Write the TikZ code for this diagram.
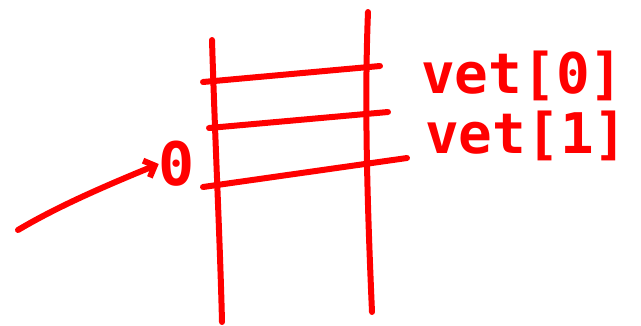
\documentclass[tikz,border=0pt]{standalone}
\usepackage{fontspec}
\newfontfamily\handfont{DejaVu Sans Mono}[BoldFont={DejaVu Sans Mono Bold}]
\usetikzlibrary{arrows.meta}
\definecolor{ink}{RGB}{255,0,0}
\begin{document}
\begin{tikzpicture}[x=1pt,y=-1pt,
  stroke/.style={draw=ink,line width=6pt,line cap=round,line join=round},
  label/.style={text=ink,font=\handfont\bfseries\fontsize{56}{60}\selectfont,inner sep=0pt}]
\useasboundingbox (0,0) rectangle (641,325);
% coordinates
\coordinate (lt) at (212,40);
\coordinate (lb) at (222,322);
\coordinate (rt) at (368,12);
\coordinate (rb) at (372,312);
\coordinate (h1a) at (203,82);  \coordinate (h1b) at (380,66);
\coordinate (h2a) at (209,128); \coordinate (h2b) at (388,112);
\coordinate (h3a) at (203,187); \coordinate (h3b) at (407,158);
\coordinate (as) at (18,230);
% ladder
\draw[stroke] (lt) .. controls (215,140) and (220,240) .. (lb);
\draw[stroke] (rt) .. controls (364,110) and (368,220) .. (rb);
\draw[stroke] (h1a) -- (h1b);
\draw[stroke] (h2a) -- (h2b);
\draw[stroke] (h3a) -- (h3b);
% labels
\node[label,anchor=base west] (v0) at (421,93) {vet[0]};
\node[label,anchor=base west] (v1) at (425,153) {vet[1]};
\node[label,font=\handfont\bfseries\fontsize{60}{64}\selectfont] (z) at (177,164) {0};
% arrow
\draw[stroke,-{Straight Barb[length=9pt,width=18pt]}] (as) .. controls (55,208) and (100,188) .. (z.west);
\end{tikzpicture}
\end{document}
